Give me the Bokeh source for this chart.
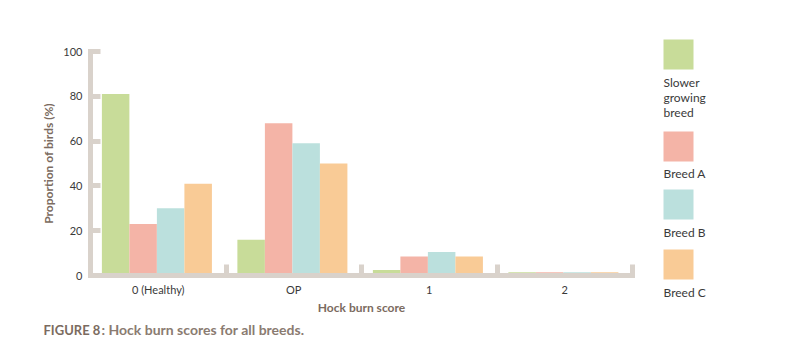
from bokeh.plotting import figure
from bokeh.layouts import row, column
from bokeh.models import Range1d, FixedTicker, ColumnDataSource
from bokeh.core.properties import value
from bokeh.transform import dodge
from bokeh.embed import file_html
from bokeh.resources import INLINE

# ---- data ----
categories = ["0 (Healthy)", "OP", "1", "2"]
breeds = ["Slower growing breed", "Breed A", "Breed B", "Breed C"]
legend_lines = [["Slower", "growing", "breed"], ["Breed A"], ["Breed B"], ["Breed C"]]
slower_growing = [81, 16, 2.5, 1.5]
breed_a = [23, 68, 8.5, 1.5]
breed_b = [30, 59, 10.5, 1.5]
breed_c = [41, 50, 8.5, 1.5]
y_ticks = [0, 20, 40, 60, 80, 100]
colors = ["#c8dc99", "#f4b4a7", "#bbe0dd", "#f9cb96"]
caption_head = "FIGURE 8"
caption_tail = ": Hock burn scores for all breeds."

AXIS = "#d9d2cb"
TICK_TXT = "#3a3a3a"
TITLE_TXT = "#7b6b60"
FONT = "Lato"

MAIN_W, MAIN_H = 640, 316
TOTAL_W, TOTAL_H = 791, 355

idx = list(range(len(categories)))
src = ColumnDataSource(dict(x=idx, s0=slower_growing, s1=breed_a, s2=breed_b, s3=breed_c))

p = figure(frame_width=542, frame_height=224,
           min_border_left=90, min_border_right=MAIN_W - 90 - 542, min_border_top=51,
           min_border_bottom=MAIN_H - 51 - 224,
           x_range=Range1d(-0.5, len(categories) - 0.5), y_range=Range1d(0, 100),
           output_backend="svg", toolbar_location=None, frame_align=False)
p.outline_line_color = None
p.xgrid.visible = False
p.ygrid.visible = False

bar_w = 0.203
offsets = [-1.5 * bar_w, -0.5 * bar_w, 0.5 * bar_w, 1.5 * bar_w]
for i, col in enumerate(["s0", "s1", "s2", "s3"]):
    p.vbar(x=dodge("x", offsets[i] - 0.01, range=p.x_range), top=col, width=bar_w, bottom=0,
           source=src, fill_color=colors[i], line_color=None)

# x axis
xa = p.xaxis[0]
xa.ticker = FixedTicker(ticks=idx, minor_ticks=[i + 0.5 for i in idx])
xa.major_label_overrides = {i: c for i, c in zip(idx, categories)}
xa.axis_line_color = AXIS
xa.axis_line_width = 5
xa.axis_line_cap = "square"
xa.major_tick_line_color = None
xa.major_tick_in = 0
xa.major_tick_out = 0
xa.minor_tick_in = 11
xa.minor_tick_out = 0
xa.minor_tick_line_width = 5
xa.minor_tick_line_color = AXIS
xa.major_label_text_font = FONT
xa.major_label_text_font_size = "11px"
xa.major_label_text_color = TICK_TXT
xa.major_label_standoff = 7
xa.axis_label = "Hock burn score"
xa.axis_label_text_font = FONT
xa.axis_label_text_font_size = "12px"
xa.axis_label_text_font_style = "bold"
xa.axis_label_text_color = TITLE_TXT
xa.axis_label_standoff = 1

# y axis
ya = p.yaxis[0]
ya.ticker = FixedTicker(ticks=y_ticks, minor_ticks=[])
ya.axis_line_color = AXIS
ya.axis_line_width = 5
ya.axis_line_cap = "square"
ya.major_tick_in = 10
ya.major_tick_out = 0
ya.major_tick_line_width = 5
ya.major_tick_line_color = AXIS
ya.minor_tick_line_color = None
ya.major_label_text_font = FONT
ya.major_label_text_font_size = "11px"
ya.major_label_text_color = TICK_TXT
ya.major_label_standoff = 8
ya.axis_label = "Proportion of birds (%)"
ya.axis_label_text_font = FONT
ya.axis_label_text_font_size = "12px"
ya.axis_label_text_font_style = "bold"
ya.axis_label_text_color = TITLE_TXT
ya.axis_label_standoff = 4


def blank(w, h):
    f = figure(width=w, height=h, x_range=Range1d(0, w), y_range=Range1d(h, 0),
               min_border=0, x_axis_type=None, y_axis_type=None,
               output_backend="svg", toolbar_location=None, frame_align=False)
    f.outline_line_color = None
    f.xgrid.visible = False
    f.ygrid.visible = False
    return f


# ---- legend panel (pixel coordinates inside the panel) ----
LW = TOTAL_W - MAIN_W
lg = blank(LW, MAIN_H)
sq_left = 23
sq_tops = [39, 131, 189, 249]
text_mid = [[82, 97, 112], [173], [232], [292]]
lg.quad(left=[sq_left] * 4, right=[sq_left + 30] * 4, top=sq_tops,
        bottom=[t + 30 for t in sq_tops], fill_color=colors, line_color=None)
tx, ty, tt = [], [], []
for i in range(len(breeds)):
    for line, cy in zip(legend_lines[i], text_mid[i]):
        tx.append(sq_left)
        ty.append(cy)
        tt.append(line)
lg.text(x=tx, y=ty, text=tt, text_font=value(FONT), text_font_size="12px",
        text_color="#3a3a3a", text_baseline="middle", text_align="left")

# ---- caption panel ----
CH = TOTAL_H - MAIN_H
cap = blank(TOTAL_W, CH)
cap.text(x=[43], y=[12], text=[caption_head], text_font=value(FONT), text_font_size="13px",
         text_font_style="bold", text_color="#7b6b60", text_baseline="middle", text_align="left")
cap.text(x=[101], y=[12], text=[caption_tail], text_font=value(FONT), text_font_size="14px",
         text_font_style="bold", text_color="#8a7b71", text_baseline="middle", text_align="left")

layout = column(row(p, lg, spacing=0), cap, spacing=0)
open("out.html", "w").write(file_html(layout, INLINE))
